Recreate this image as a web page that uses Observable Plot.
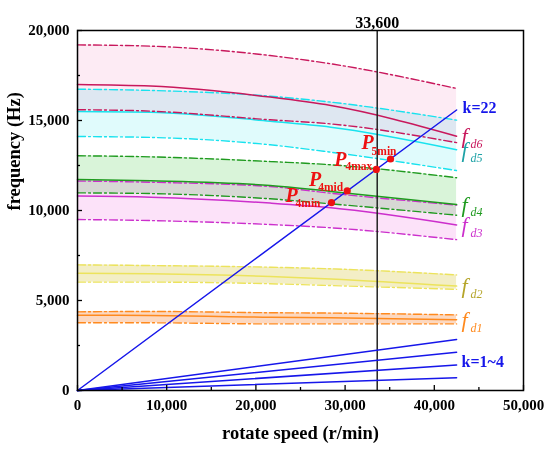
<!DOCTYPE html>
<html><head><meta charset="utf-8">
<script src="https://cdn.jsdelivr.net/npm/d3@7"></script>
<script src="https://cdn.jsdelivr.net/npm/@observablehq/plot@0.6"></script>
<style>
body{margin:0;background:#fff;}
#chart svg{font-family:"Liberation Serif","Times New Roman",serif;background:#fff;}
</style></head><body><div id="chart"></div>
<script>
// rotate speed sample positions (r/min)
const speed = [0, 8200, 21600, 28400, 42500];

// band values (Hz): upper dash-dot, solid centre, lower dash-dot
const fd1Hi  = [4370, 4390, 4320, 4300, 4200];
const fd1Mid = [4180, 4170, 4070, 4040, 3930];
const fd1Lo  = [3760, 3760, 3700, 3700, 3700];
const fd2Hi  = [6980, 6940, 6850, 6760, 6420];
const fd2Mid = [6520, 6480, 6330, 6200, 5800];
const fd2Lo  = [6020, 6020, 5930, 5830, 5620];
const fd3Hi  = [11640, 11570, 11330, 10960, 10300];
const fd3Mid = [10800, 10740, 10410, 10150, 9200];
const fd3Lo  = [9500, 9440, 9220, 9040, 8380];
const fd4Hi  = [13040, 12980, 12720, 12540, 11820];
const fd4Mid = [11720, 11650, 11390, 11060, 10330];
const fd4Lo  = [10980, 10940, 10650, 10370, 9740];
const fd5Hi  = [16740, 16670, 16350, 16020, 15020];
const fd5Mid = [15500, 15460, 14960, 14630, 13380];
const fd5Lo  = [14110, 14060, 13650, 13240, 12220];
const fd6Hi  = [19200, 19130, 18610, 18150, 16780];
const fd6Mid = [17000, 16910, 16300, 15830, 14130];
const fd6Lo  = [15600, 15520, 15040, 14810, 13770];

const bandSubs = ["d1", "d2", "d3", "d4", "d5", "d6"];
const bandLine = ["#ff8a1e", "#ece35c", "#cc2fcc", "#1f9a1f", "#18e2ee", "#c8185c"];
const bandFill = ["#fcd8c0", "#f3eec6", "#fce2f9", "#d9f4d9", "#e0fbfc", "#fdebf4"];
const bandText = ["#ff8a1e", "#b5a52a", "#cc2fcc", "#1f9a1f", "#1ea2a6", "#c8185c"];
const bandHi = [fd1Hi, fd2Hi, fd3Hi, fd4Hi, fd5Hi, fd6Hi];
const bandMid = [fd1Mid, fd2Mid, fd3Mid, fd4Mid, fd5Mid, fd6Mid];
const bandLo = [fd1Lo, fd2Lo, fd3Lo, fd4Lo, fd5Lo, fd6Lo];

// order lines k
const kOrders = [1, 2, 3, 4, 22];
const kSpeedEnd = 42500;
const kFreqEnd = [708, 1417, 2125, 2833, 15583];

// marked points
const ptNames = ["4min", "4mid", "4max", "5min"];
const ptSpeed = [28475, 30235, 33500, 35090];
const ptFreq = [10440, 11090, 12280, 12860];

const speedLine = 33600;
const xTicks = [0, 10000, 20000, 30000, 40000, 50000];
const xMinor = [5000, 15000, 25000, 35000, 45000];
const yTicks = [0, 5000, 10000, 15000, 20000];
const yMinor = [2500, 7500, 12500, 17500];

const bands = bandSubs.map((s, i) => ({
  sub: s, line: bandLine[i], fill: bandFill[i], text: bandText[i],
  rows: speed.map((x, j) => ({x, hi: bandHi[i][j], mid: bandMid[i][j], lo: bandLo[i][j]}))
}));
const kRows = kOrders.flatMap((k, i) => [{k, x: 0, y: 0}, {k, x: kSpeedEnd, y: kFreqEnd[i]}]);
const pts = ptNames.map((n, i) => ({n, x: ptSpeed[i], y: ptFreq[i]}));

const dash = "8,3,2,3";
const marks = [];
for (const b of bands) {
  marks.push(Plot.areaY(b.rows, {x: "x", y1: "lo", y2: "hi", fill: b.fill, curve: "monotone-x", mixBlendMode: "multiply"}));
}
for (const b of bands) {
  marks.push(Plot.lineY(b.rows, {x: "x", y: "hi", stroke: b.line, strokeWidth: 1.4, strokeDasharray: dash, curve: "monotone-x"}));
  marks.push(Plot.lineY(b.rows, {x: "x", y: "lo", stroke: b.line, strokeWidth: 1.4, strokeDasharray: dash, curve: "monotone-x"}));
  marks.push(Plot.lineY(b.rows, {x: "x", y: "mid", stroke: b.line, strokeWidth: 1.5, curve: "monotone-x"}));
  const last = b.rows[b.rows.length - 1];
  marks.push(Plot.text([last], {x: "x", y: "mid", text: () => "f", dx: 5, dy: 0, textAnchor: "start", fontSize: 22, fontStyle: "italic", fill: b.text}));
  marks.push(Plot.text([last], {x: "x", y: "mid", text: () => b.sub, dx: 14, dy: 8, textAnchor: "start", fontSize: 12, fontStyle: "italic", fill: b.text}));
}
marks.push(Plot.ruleX([speedLine], {stroke: "#222", strokeWidth: 1.5}));
marks.push(Plot.line(kRows, {x: "x", y: "y", z: "k", stroke: "#1616ea", strokeWidth: 1.5}));
marks.push(Plot.text([kRows[9]], {x: "x", y: "y", text: () => "k=22", dx: 6, dy: -2, textAnchor: "start", fontSize: 16, fontWeight: "bold", fill: "#1616ea"}));
marks.push(Plot.text([kRows[3]], {x: "x", y: "y", text: () => "k=1~4", dx: 5, dy: -3, textAnchor: "start", fontSize: 16, fontWeight: "bold", fill: "#1616ea"}));
marks.push(Plot.dot(pts, {x: "x", y: "y", r: 3.6, fill: "#ee1111"}));
const pOff = [[-40, -7, -11, 1], [-32, -11, -4, -4], [-36, -10, -4, -3], [-23, -16, 6, -8]];
pts.forEach((p, i) => {
  const o = pOff[i];
  marks.push(Plot.text([p], {x: "x", y: "y", text: () => "P", dx: o[0], dy: o[1], fontSize: 20, fontStyle: "italic", fontWeight: "bold", fill: "#ee1111"}));
  marks.push(Plot.text([p], {x: "x", y: "y", text: "n", dx: o[2], dy: o[3], textAnchor: "end", fontSize: 11.5, fontWeight: "bold", fill: "#ee1111"}));
});
marks.push(Plot.frame({stroke: "#000", strokeWidth: 1.5}));
marks.push(Plot.axisX({ticks: xTicks, tickFormat: d3.format(","), tickSize: -5, tickPadding: 14, fontSize: 15, fontWeight: "bold", fill: "#000", stroke: "#000", strokeWidth: 1.3, label: null}));
marks.push(Plot.axisX({ticks: xMinor, tickFormat: () => "", tickSize: -3, stroke: "#000", strokeWidth: 1.3, label: null}));
marks.push(Plot.axisY({ticks: yTicks, tickFormat: d3.format(","), tickSize: -5, tickPadding: 13, fontSize: 15, fontWeight: "bold", fill: "#000", stroke: "#000", strokeWidth: 1.3, label: null}));
marks.push(Plot.axisY({ticks: yMinor, tickFormat: () => "", tickSize: -3, stroke: "#000", strokeWidth: 1.3, label: null}));
marks.push(Plot.text([speedLine], {x: d => d, text: () => "33,600", frameAnchor: "top", dy: -14, fontSize: 16, fontWeight: "bold", fill: "#000"}));
marks.push(Plot.text(["rotate speed (r/min)"], {frameAnchor: "bottom", dy: 48, fontSize: 18.5, fontWeight: "bold", fill: "#000"}));
marks.push(Plot.text(["frequency (Hz)"], {frameAnchor: "left", dx: -63, rotate: -90, fontSize: 18.5, fontWeight: "bold", fill: "#000"}));

const chart = Plot.plot({
  width: 550, height: 453,
  marginLeft: 77, marginRight: 27, marginTop: 30, marginBottom: 63,
  x: {domain: [0, 50000]},
  y: {domain: [0, 20000]},
  style: {fontFamily: "'Liberation Serif','Times New Roman',serif", background: "#fff", overflow: "visible"},
  marks
});
document.getElementById("chart").appendChild(chart);
</script></body></html>
